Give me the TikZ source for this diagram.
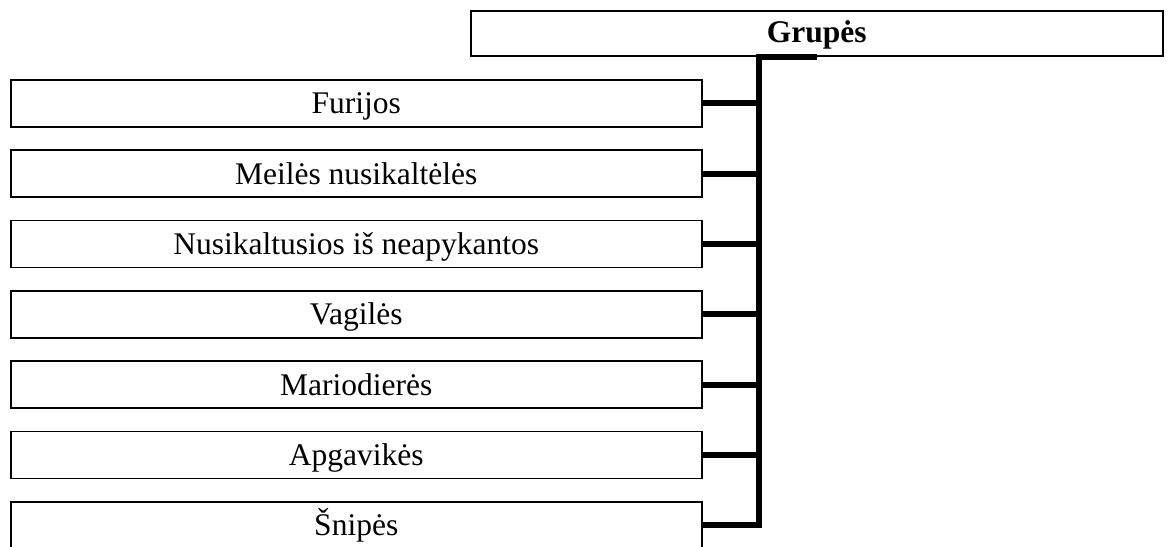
\documentclass[tikz,border=0pt]{standalone}
\usepackage{fontspec}
\setmainfont{Liberation Serif}
\begin{document}
\begin{tikzpicture}[x=1pt,y=-1pt,
  box/.style={draw, line width=1.5pt, minimum width=691pt, minimum height=47pt,
    inner sep=0pt, anchor=north west, font=\fontsize{31.5}{34}\selectfont,
    text height=24pt, text depth=3pt},
  topbox/.style={draw, line width=1.5pt, minimum width=692pt, minimum height=45pt,
    inner sep=0pt, anchor=north west, font=\fontsize{31.5}{34}\selectfont\bfseries,
    text height=22pt, text depth=3pt},
  conn/.style={line width=6pt}]
\useasboundingbox (0,0) rectangle (1169,546);
\node[topbox] (top) at (470,10) {Grupės};
\node[box] (b1) at (10,79) {Furijos};
\node[box] (b2) at (10,149.33) {Meilės nusikaltėlės};
\node[box] (b3) at (10,219.67) {Nusikaltusios iš neapykantos};
\node[box] (b4) at (10,290) {Vagilės};
\node[box] (b5) at (10,360.33) {Mariodierės};
\node[box] (b6) at (10,430.67) {Apgavikės};
\node[box] (b7) at (10,501) {Šnipės};
\coordinate (sx) at (759,57);
\coordinate (jt) at (sx -| top.south);
\draw[conn] (jt) -- (sx) -- (sx |- b7.east) -- (b7.east);
\foreach \i in {1,...,6}{
  \draw[conn] (b\i.east) -- (sx |- b\i.east);
}
\end{tikzpicture}
\end{document}
